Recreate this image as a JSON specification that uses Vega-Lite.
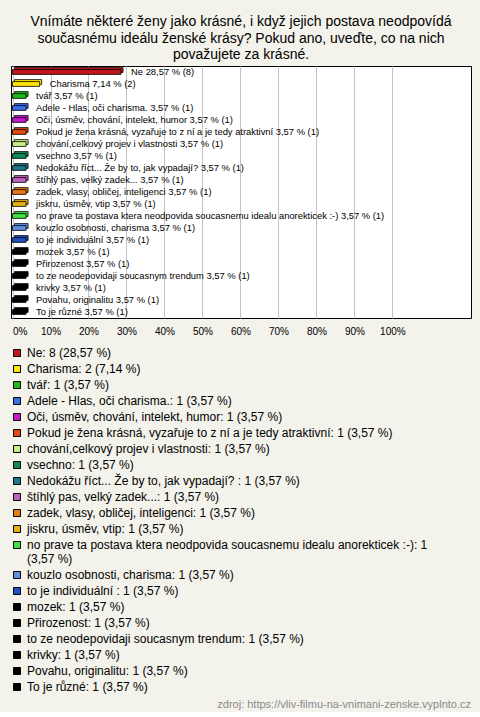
{
  "$schema": "https://vega.github.io/schema/vega-lite/v6.json",
  "background": "#f3f2eb",
  "padding": {"left": 10, "right": 10, "top": 14, "bottom": 2},
  "title": {
    "text": "zdroj: https://vliv-filmu-na-vnimani-zenske.vyplnto.cz",
    "orient": "bottom", "anchor": "end", "frame": "group",
    "font": "Liberation Sans", "fontSize": 11, "fontWeight": "normal", "color": "#8a8a8a", "offset": 6
  },
  "datasets": {
    "answers": [
      {"legend": "Ne: 8 (28,57 %)", "bar": "Ne 28,57 % (8)", "pct": 28.57, "count": 8},
      {"legend": "Charisma: 2 (7,14 %)", "bar": "Charisma 7,14 % (2)", "pct": 7.14, "count": 2},
      {"legend": "tvář: 1 (3,57 %)", "bar": "tvář 3,57 % (1)", "pct": 3.57, "count": 1},
      {"legend": "Adele - Hlas, oči charisma.: 1 (3,57 %)", "bar": "Adele - Hlas, oči charisma. 3,57 % (1)", "pct": 3.57, "count": 1},
      {"legend": "Oči, úsměv, chování, intelekt, humor: 1 (3,57 %)", "bar": "Oči, úsměv, chování, intelekt, humor 3,57 % (1)", "pct": 3.57, "count": 1},
      {"legend": "Pokud je žena krásná, vyzařuje to z ní a je tedy atraktivní: 1 (3,57 %)", "bar": "Pokud je žena krásná, vyzařuje to z ní a je tedy atraktivní 3,57 % (1)", "pct": 3.57, "count": 1},
      {"legend": "chování,celkový projev i vlastnosti: 1 (3,57 %)", "bar": "chování,celkový projev i vlastnosti 3,57 % (1)", "pct": 3.57, "count": 1},
      {"legend": "vsechno: 1 (3,57 %)", "bar": "vsechno 3,57 % (1)", "pct": 3.57, "count": 1},
      {"legend": "Nedokážu říct... Že by to, jak vypadají? : 1 (3,57 %)", "bar": "Nedokážu říct... Že by to, jak vypadají?  3,57 % (1)", "pct": 3.57, "count": 1},
      {"legend": "štíhlý pas, velký zadek...: 1 (3,57 %)", "bar": "štíhlý pas, velký zadek... 3,57 % (1)", "pct": 3.57, "count": 1},
      {"legend": "zadek, vlasy, obličej, inteligenci: 1 (3,57 %)", "bar": "zadek, vlasy, obličej, inteligenci 3,57 % (1)", "pct": 3.57, "count": 1},
      {"legend": "jiskru, úsměv, vtip: 1 (3,57 %)", "bar": "jiskru, úsměv, vtip 3,57 % (1)", "pct": 3.57, "count": 1},
      {"legend": "no prave ta postava ktera neodpovida soucasnemu idealu anorekticek :-): 1|(3,57 %)", "bar": "no prave ta postava ktera neodpovida soucasnemu idealu anorekticek :-) 3,57 % (1)", "pct": 3.57, "count": 1},
      {"legend": "kouzlo osobnosti, charisma: 1 (3,57 %)", "bar": "kouzlo osobnosti, charisma 3,57 % (1)", "pct": 3.57, "count": 1},
      {"legend": "to je individuální : 1 (3,57 %)", "bar": "to je individuální  3,57 % (1)", "pct": 3.57, "count": 1},
      {"legend": "mozek: 1 (3,57 %)", "bar": "mozek 3,57 % (1)", "pct": 3.57, "count": 1},
      {"legend": "Přirozenost: 1 (3,57 %)", "bar": "Přirozenost 3,57 % (1)", "pct": 3.57, "count": 1},
      {"legend": "to ze neodepovidaji soucasnym trendum: 1 (3,57 %)", "bar": "to ze neodepovidaji soucasnym trendum 3,57 % (1)", "pct": 3.57, "count": 1},
      {"legend": "krivky: 1 (3,57 %)", "bar": "krivky 3,57 % (1)", "pct": 3.57, "count": 1},
      {"legend": "Povahu, originalitu: 1 (3,57 %)", "bar": "Povahu, originalitu 3,57 % (1)", "pct": 3.57, "count": 1},
      {"legend": "To je různé: 1 (3,57 %)", "bar": "To je různé 3,57 % (1)", "pct": 3.57, "count": 1}
    ]
  },
  "vconcat": [
    {
      "width": 460,
      "height": 252,
      "data": {"name": "answers"},
      "title": {
        "text": ["Vnímáte některé ženy jako krásné, i když jejich postava neodpovídá", "současnému ideálu ženské krásy? Pokud ano, uveďte, co na nich", "považujete za krásné."],
        "font": "Liberation Sans", "fontSize": 14, "fontWeight": "normal", "color": "black",
        "anchor": "middle", "frame": "group", "lineHeight": 16.5, "offset": 4
      },
      "encoding": {
        "y": {"field": "legend", "type": "nominal", "sort": null, "axis": null,
              "scale": {"paddingInner": 0.6, "paddingOuter": 0.3}},
        "x": {"field": "pct", "type": "quantitative",
              "scale": {"domain": [-0.4, 120.7], "nice": false, "zero": false},
              "axis": {"values": [0, 10, 20, 30, 40, 50, 60, 70, 80, 90, 100], "title": null,
                       "labelExpr": "datum.value + '%'", "domain": false, "ticks": false,
                       "grid": true, "gridColor": "#c4c4c4", "gridWidth": 1,
                       "labelFont": "Liberation Sans", "labelFontSize": 10, "labelColor": "black",
                       "labelPadding": 8, "labelFlush": false,
                       "labelAlign": {"condition": {"test": "datum.value === 0", "value": "left"}, "value": "center"}}}
      },
      "layer": [
        {
          "mark": {"type": "bar", "stroke": "black", "strokeWidth": 0.8, "xOffset": 2, "x2Offset": 2, "yOffset": -2, "y2Offset": -2},
          "encoding": {
            "color": {"field": "legend", "type": "nominal", "sort": null,
              "scale": {"range": ["#c4161c", "#ffe600", "#1cb81c", "#3a6ee8", "#c818d0", "#e04a10", "#c8f080", "#138a5a", "#1a7a8a", "#c060c0", "#e87a10", "#e8b010", "#40e040", "#6090e0", "#2050c0", "#000000", "#000000", "#000000", "#000000", "#000000", "#000000"]},
              "legend": {"orient": "bottom", "direction": "vertical", "columns": 1, "title": null,
                         "symbolType": "square", "symbolSize": 49, "symbolStrokeColor": "black", "symbolStrokeWidth": 1,
                         "symbolOpacity": 1,
                         "labelFont": "Liberation Sans", "labelFontSize": 12, "labelColor": "black",
                         "labelLimit": 1000, "rowPadding": 4, "offset": 10, "labelOffset": 4,
                         "labelExpr": "split(datum.label, '|')",
                         "encode": {"labels": {"update": {"lineHeight": {"value": 14}}}}}}
          }
        },
        {
          "mark": {"type": "bar", "stroke": "black", "strokeWidth": 0.8},
          "encoding": {
            "color": {"field": "legend", "type": "nominal", "sort": null}
          }
        },
        {
          "mark": {"type": "text", "align": "left", "baseline": "middle", "dx": 10, "font": "Liberation Sans", "fontSize": 9.4, "color": "black"},
          "encoding": {"text": {"field": "bar"}}
        }
      ]
    }
  ],
  "config": {
    "view": {"fill": "white", "stroke": "black", "strokeWidth": 1}
  }
}
